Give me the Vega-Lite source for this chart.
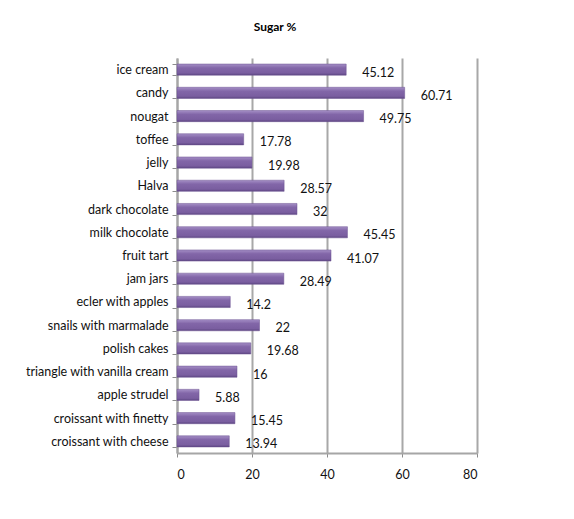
{
  "$schema": "https://vega.github.io/schema/vega-lite/v6.json",
  "width": 300,
  "height": 395,
  "autosize": "none",
  "padding": {"left": 177, "top": 58, "right": 97, "bottom": 66},
  "background": "white",
  "title": {
    "text": "Sugar %",
    "font": "Lato",
    "fontSize": 12,
    "fontWeight": "bold",
    "color": "#000000",
    "anchor": "middle",
    "dx": -52,
    "offset": 18
  },
  "data": {
    "values": [
      {"item": "ice cream", "sugar": 45.12},
      {"item": "candy", "sugar": 60.71},
      {"item": "nougat", "sugar": 49.75},
      {"item": "toffee", "sugar": 17.78},
      {"item": "jelly", "sugar": 19.98},
      {"item": "Halva", "sugar": 28.57},
      {"item": "dark chocolate", "sugar": 32},
      {"item": "milk chocolate", "sugar": 45.45},
      {"item": "fruit tart", "sugar": 41.07},
      {"item": "jam jars", "sugar": 28.49},
      {"item": "ecler with apples", "sugar": 14.2},
      {"item": "snails with marmalade", "sugar": 22},
      {"item": "polish cakes", "sugar": 19.68},
      {"item": "triangle with vanilla cream", "sugar": 16},
      {"item": "apple strudel", "sugar": 5.88},
      {"item": "croissant with finetty", "sugar": 15.45},
      {"item": "croissant with cheese", "sugar": 13.94}
    ]
  },
  "encoding": {
    "y": {
      "field": "item",
      "type": "nominal",
      "sort": null,
      "scale": {"paddingInner": 0.52, "paddingOuter": 0.26},
      "axis": {
        "title": null,
        "tickBand": "extent",
        "labelFont": "Lato",
        "labelFontSize": 12.5,
        "labelColor": "#111111",
        "labelPadding": 4,
        "tickSize": 5,
        "tickColor": "#8c8c8c",
        "domainColor": "#a6a6a6",
        "domainWidth": 2,
        "grid": false
      }
    },
    "x": {
      "field": "sugar",
      "type": "quantitative",
      "scale": {"domain": [0, 80], "nice": false},
      "axis": {
        "title": null,
        "values": [0, 20, 40, 60, 80],
        "labelFont": "Lato",
        "labelFontSize": 12.5,
        "labelColor": "#111111",
        "labelPadding": 11,
        "tickSize": 4,
        "tickColor": "#8c8c8c",
        "domainColor": "#a6a6a6",
        "domainWidth": 2,
        "grid": true,
        "gridColor": "#a8a8a8",
        "gridWidth": 2
      }
    }
  },
  "layer": [
    {
      "mark": {
        "type": "bar",
        "color": {
          "gradient": "linear",
          "x1": 0, "y1": 0, "x2": 0, "y2": 1,
          "stops": [
            {"offset": 0, "color": "#a58fc6"},
            {"offset": 0.35, "color": "#8266a8"},
            {"offset": 0.8, "color": "#7a5ea0"},
            {"offset": 1, "color": "#5d4682"}
          ]
        },
        "stroke": "#6a5190",
        "strokeWidth": 0.5
      }
    },
    {
      "mark": {
        "type": "text",
        "align": "left",
        "baseline": "middle",
        "dx": 16,
        "dy": 3,
        "font": "Lato",
        "fontSize": 12.5,
        "color": "#111111"
      },
      "encoding": {"text": {"field": "sugar", "type": "quantitative"}}
    }
  ],
  "config": {
    "view": {"stroke": null}
  }
}
